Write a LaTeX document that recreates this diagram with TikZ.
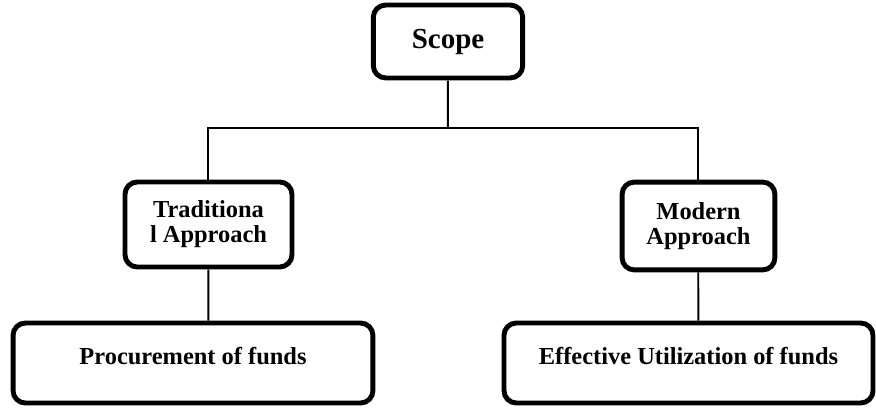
\documentclass[tikz,border=0pt]{standalone}
\usepackage{fontspec}
\setmainfont{Liberation Serif}

\begin{document}
\begin{tikzpicture}[scale=20,
		block/.style={draw, line width=2.8pt, rounded corners=7pt, align=center, inner sep=0pt,
			font=\bfseries\fontsize{13.9}{14.2}\selectfont},
		leaf/.style={block, minimum height=45.5pt, text height=10pt, text depth=8pt},
		link/.style={line width=1.1pt}]
		\useasboundingbox ( 0.000, 0.000 ) rectangle ( 0.876, 0.408 );

		% scope
		\node [block, minimum width=85pt, minimum height=41.5pt,
			font=\bfseries\fontsize{16.5}{17}\selectfont] (scope) at ( 0.448, 0.3665 ) {Scope};

		% approaches
		\node [block, minimum width=95pt, minimum height=48.4pt] (trad) at ( 0.2085, 0.1835 ) {Traditiona\\l Approach};
		\node [block, minimum width=87pt, minimum height=50pt] (modern) at ( 0.6985, 0.182 ) {Modern\\Approach};

		% funds
		\node [leaf, minimum width=204.8pt] (proc) at ( 0.193, 0.045 ) {Procurement of funds};
		\node [leaf, minimum width=210pt] (eff) at ( 0.6885, 0.045 ) {Effective Utilization of funds};

		% links
		\coordinate (bus) at ( 0.448, 0.280 );
		\draw [link] (scope) -- (bus);
		\draw [link] (bus) -| (trad);
		\draw [link] (bus) -| (modern);
		\draw [link] (trad) -- (trad |- proc.north);
		\draw [link] (modern) -- (modern |- eff.north);
	\end{tikzpicture}
\end{document}
